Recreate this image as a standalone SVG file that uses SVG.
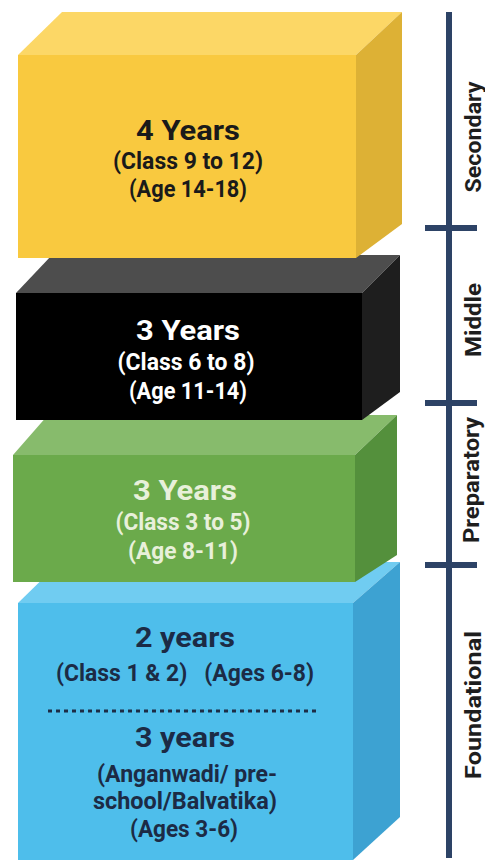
<svg xmlns="http://www.w3.org/2000/svg" width="485" height="860" viewBox="0 0 485 860">
<style>
text{font-family:Roboto,"Liberation Sans",sans-serif;font-weight:bold;text-anchor:middle}
.t{font-size:28px}
.s{font-size:23px}
.ax{stroke:#2D4366;stroke-width:6;fill:none}
.lab{font-size:22px;fill:#1e1e1e}
</style>
<rect width="485" height="860" fill="#ffffff"/>
<g id="foundational">
<polygon points="18,603 60,562 400,562 353,603" fill="#70CCF1"/>
<polygon points="353,603 400,562 400,817 353,860" fill="#3DA2D2"/>
<rect x="18" y="603" width="335" height="257" fill="#4EBEEB"/>
<g fill="#1C2B45">
<text class="t" x="185" y="647" textLength="100" lengthAdjust="spacingAndGlyphs">2 years</text>
<text class="s" x="185" y="681" textLength="258" lengthAdjust="spacingAndGlyphs" xml:space="preserve">(Class 1 &amp; 2)   (Ages 6-8)</text>
<line x1="48" y1="711" x2="318" y2="711" stroke="#1C2B45" stroke-width="3" stroke-dasharray="4 4"/>
<text class="t" x="185" y="747" textLength="100" lengthAdjust="spacingAndGlyphs">3 years</text>
<text class="s" x="187" y="782" textLength="180" lengthAdjust="spacingAndGlyphs">(Anganwadi/ pre-</text>
<text class="s" x="185" y="809" textLength="184" lengthAdjust="spacingAndGlyphs">school/Balvatika)</text>
<text class="s" x="184" y="837" textLength="108" lengthAdjust="spacingAndGlyphs">(Ages 3-6)</text>
</g>
</g>
<g id="preparatory">
<polygon points="13,455 48,415 397,415 355,455" fill="#87BB6C"/>
<polygon points="355,455 397,415 397,555 355,582" fill="#54903C"/>
<rect x="13" y="455" width="342" height="127" fill="#6BAA4B"/>
<g fill="#E8F0DA">
<text class="t" x="185" y="500" textLength="104" lengthAdjust="spacingAndGlyphs">3 Years</text>
<text class="s" x="183" y="530" textLength="135" lengthAdjust="spacingAndGlyphs">(Class 3 to 5)</text>
<text class="s" x="183" y="559" textLength="110" lengthAdjust="spacingAndGlyphs">(Age 8-11)</text>
</g>
</g>
<g id="middle">
<polygon points="16,293 52,255 400,255 362,293" fill="#4D4D4D"/>
<polygon points="362,293 400,255 400,392 362,420" fill="#1E1E1E"/>
<rect x="16" y="293" width="346" height="127" fill="#000000"/>
<g fill="#ffffff">
<text class="t" x="188" y="340" textLength="104" lengthAdjust="spacingAndGlyphs">3 Years</text>
<text class="s" x="186" y="370" textLength="137" lengthAdjust="spacingAndGlyphs">(Class 6 to 8)</text>
<text class="s" x="188" y="399" textLength="118" lengthAdjust="spacingAndGlyphs">(Age 11-14)</text>
</g>
</g>
<g id="secondary">
<polygon points="18,55 62,12 402,12 356,55" fill="#FCD766"/>
<polygon points="356,55 402,12 402,224 356,258" fill="#DDB135"/>
<rect x="18" y="55" width="338" height="203" fill="#F9C93F"/>
<g fill="#1a1a1a">
<text class="t" x="188" y="140" textLength="104" lengthAdjust="spacingAndGlyphs">4 Years</text>
<text class="s" x="188" y="169" textLength="150" lengthAdjust="spacingAndGlyphs">(Class 9 to 12)</text>
<text class="s" x="188" y="197" textLength="118" lengthAdjust="spacingAndGlyphs">(Age 14-18)</text>
</g>
</g>
<g id="axis">
<line class="ax" x1="449" y1="12" x2="449" y2="858"/>
<line class="ax" x1="425" y1="228" x2="477" y2="228"/>
<line class="ax" x1="425" y1="403" x2="477" y2="403"/>
<line class="ax" x1="425" y1="565" x2="477" y2="565"/>
<text class="lab" transform="translate(481,137) rotate(-90)" textLength="111" lengthAdjust="spacingAndGlyphs">Secondary</text>
<text class="lab" transform="translate(481,320) rotate(-90)" textLength="74" lengthAdjust="spacingAndGlyphs">Middle</text>
<text class="lab" transform="translate(479,480) rotate(-90)" textLength="126" lengthAdjust="spacingAndGlyphs">Preparatory</text>
<text class="lab" transform="translate(481,705) rotate(-90)" textLength="148" lengthAdjust="spacingAndGlyphs">Foundational</text>
</g>
</svg>
